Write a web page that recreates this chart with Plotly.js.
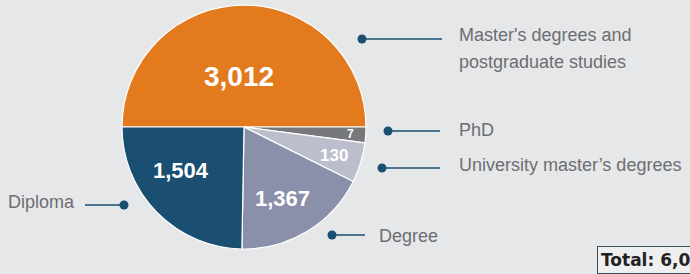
<!DOCTYPE html>
<html><head><meta charset="utf-8">
<script src="https://cdn.plot.ly/plotly-3.0.1.min.js"></script>
<style>html,body{margin:0;padding:0;background:#e6e7e9;overflow:hidden;} #chart{width:690px;height:274px;}</style>
</head><body><div id="chart"></div>
<script>
// Data
const categories = ["Master's degrees and postgraduate studies", "PhD", "University master’s degrees", "Degree", "Diploma"];
const counts = [3012, 7, 130, 1367, 1504];
// slice sizes as drawn in the picture (degrees) - the reference enlarges small slices
const shownShare = [180, 7.5, 19, 64.5, 89];
const legendLines = [["Master's degrees and", "postgraduate studies"], ["PhD"], ["University master’s degrees"], ["Degree"], ["Diploma"]];
const colors = ["#e37b1e", "#77787b", "#bcbecd", "#8a8faa", "#1b4f72"];

const W = 690, H = 274;
const px = x => x / W, py = y => 1 - y / H;
const fmt = n => n.toLocaleString('en-US');
const total = counts.reduce((a, b) => a + b, 0);

const pie = {
  type: 'pie', values: shownShare, labels: categories, sort: false,
  direction: 'clockwise', rotation: -90,
  textinfo: 'none',
  marker: {colors: colors, line: {color: '#ffffff', width: 1.2}},
  hoverinfo: 'none', showlegend: false,
  domain: {x: [px(122), px(366)], y: [py(249), py(5)]}
};

// value label placement inside slices (pixel centres) and sizes
const valuePos = [[239, 76, 28], [351, 134, 12], [334, 155, 17], [282, 198, 22], [181, 170, 22]];

// leader lines
const leaders = [
  {dot: [362, 39], end: 442, tx: 457, ty: [35, 62], anchor: 'left'},
  {dot: [388, 131], end: 440, tx: 457, ty: [130], anchor: 'left'},
  {dot: [382, 168], end: 440, tx: 457, ty: [165], anchor: 'left'},
  {dot: [332, 235], end: 365, tx: 377, ty: [236], anchor: 'left'},
  {dot: [124, 205], end: 85, tx: 77, ty: [202], anchor: 'right'}
];
const lineColor = '#1b4f72';
const shapes = [], annotations = [];
counts.forEach((c, i) => {
  const p = valuePos[i];
  annotations.push({xref: 'paper', yref: 'paper', x: px(p[0]), y: py(p[1]), xanchor: 'center', yanchor: 'middle',
    text: '<b>' + fmt(c) + '</b>', showarrow: false,
    font: {family: 'Arial, Liberation Sans', size: p[2], color: '#ffffff'}});
});
leaders.forEach((l, i) => {
  shapes.push({type: 'line', xref: 'paper', yref: 'paper', x0: px(l.dot[0]), y0: py(l.dot[1]), x1: px(l.end), y1: py(l.dot[1]), line: {color: lineColor, width: 1.5}});
  shapes.push({type: 'circle', xref: 'paper', yref: 'paper', x0: px(l.dot[0] - 4.5), x1: px(l.dot[0] + 4.5), y0: py(l.dot[1] - 4.5), y1: py(l.dot[1] + 4.5), fillcolor: lineColor, line: {width: 0}});
  legendLines[i].forEach((t, j) => {
    annotations.push({xref: 'paper', yref: 'paper', x: px(l.tx), y: py(l.ty[j]), xanchor: l.anchor, yanchor: 'middle', text: t, showarrow: false,
      font: {family: 'Arial, Liberation Sans', size: 18, color: '#6d6e71'}});
  });
});
annotations.push({xref: 'paper', yref: 'paper', x: px(597), y: py(246), xanchor: 'left', yanchor: 'top',
  text: '<b>Total: ' + fmt(total) + '</b>', showarrow: false, align: 'left',
  font: {family: 'DejaVu Sans', size: 17, color: '#222222'},
  bordercolor: '#3d4e5b', borderwidth: 1, borderpad: 3, bgcolor: '#eeeff0'});

const layout = {
  width: W, height: H, margin: {l: 0, r: 0, t: 0, b: 0},
  paper_bgcolor: '#e6e7e9', plot_bgcolor: '#e6e7e9',
  shapes: shapes, annotations: annotations, showlegend: false
};
Plotly.newPlot('chart', [pie], layout, {displayModeBar: false, staticPlot: true});
</script></body></html>
